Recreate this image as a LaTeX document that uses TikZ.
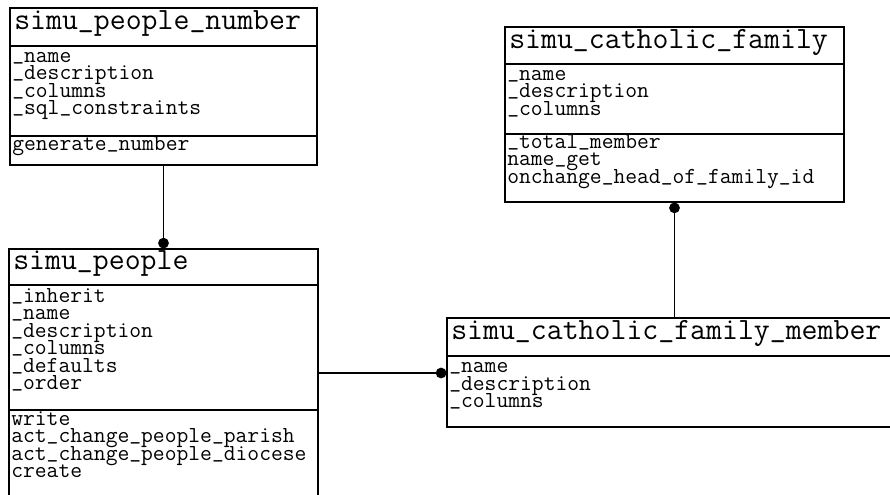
\documentclass[tikz,border=0pt]{standalone}
\usetikzlibrary{arrows.meta,fit}

\newcommand\usc{\raisebox{2pt}{\_}}

\tikzset{
  box/.style={draw, inner sep=0pt, line width=0.8pt},
  title/.style={anchor=base west, inner sep=0pt, font=\ttfamily\fontsize{23.2}{24}\selectfont},
  entry/.style={anchor=base west, inner sep=0pt, text height=9pt, text depth=3pt,
    font=\ttfamily\fontsize{17.2}{17.5}\selectfont},
  link/.style={line width=0.8pt, -{Circle[length=8pt]}}
}

\begin{document}
\begin{tikzpicture}[x=0.75pt, y=-0.75pt]

      \useasboundingbox (0,0) rectangle (890,494);
      \clip (0,0) rectangle (890,494);

      % simu_people_number
      \node[box, fit={(10,8) (317,46)}]    (numT) {};
      \node[box, fit={(10,46) (317,136)}]  (numA) {};
      \node[box, fit={(10,136) (317,165)}] (numM) {};
      \node[title] (numName) at (14,29.5) {simu\usc people\usc number};
      \foreach \fld [count=\i] in {\usc name,\usc description,\usc columns,\usc sql\usc constraints}
        \node[entry, name=numA\i] at (12,{62+(\i-1)*17.5}) {\fld};
      \node[entry] (numM1) at (12,150) {generate\usc number};

      % simu_people
      \node[box, fit={(9,249) (318,285)}]  (pplT) {};
      \node[box, fit={(9,285) (318,410)}]  (pplA) {};
      \node[box, fit={(9,410) (318,505)}]  (pplM) {};
      \node[title] (pplName) at (13,269.5) {simu\usc people};
      \foreach \fld [count=\i] in {\usc inherit,\usc name,\usc description,\usc columns,\usc defaults,\usc order}
        \node[entry, name=pplA\i] at (11,{302+(\i-1)*17.5}) {\fld};
      \foreach \fld [count=\i] in {write,act\usc change\usc people\usc parish,act\usc change\usc people\usc diocese,create}
        \node[entry, name=pplM\i] at (11,{425+(\i-1)*17.5}) {\fld};

      % simu_catholic_family
      \node[box, fit={(505,27) (844,64)}]   (famT) {};
      \node[box, fit={(505,64) (844,134)}]  (famA) {};
      \node[box, fit={(505,134) (844,202)}] (famM) {};
      \node[title] (famName) at (509,48) {simu\usc catholic\usc family};
      \foreach \fld [count=\i] in {\usc name,\usc description,\usc columns}
        \node[entry, name=famA\i] at (507,{80+(\i-1)*17.5}) {\fld};
      \foreach \fld [count=\i] in {\usc total\usc member,name\usc get,onchange\usc head\usc of\usc family\usc id}
        \node[entry, name=famM\i] at (507,{148+(\i-1)*17.5}) {\fld};

      % simu_catholic_family_member
      \node[box, fit={(447,318) (900,356)}] (memT) {};
      \node[box, fit={(447,356) (900,427)}] (memA) {};
      \node[title] (memName) at (451,339) {simu\usc catholic\usc family\usc member};
      \foreach \fld [count=\i] in {\usc name,\usc description,\usc columns}
        \node[entry, name=memA\i] at (449,{372.5+(\i-1)*17.5}) {\fld};

      % links
      \coordinate (hook) at (0,373);
      \draw[link] (numM.south) -- (pplT.north);
      \draw[link] (pplA.east |- hook) -- (memA.west |- hook);
      \draw[link] (memT.north -| famM.south) -- (famM.south);

    \end{tikzpicture}
\end{document}
